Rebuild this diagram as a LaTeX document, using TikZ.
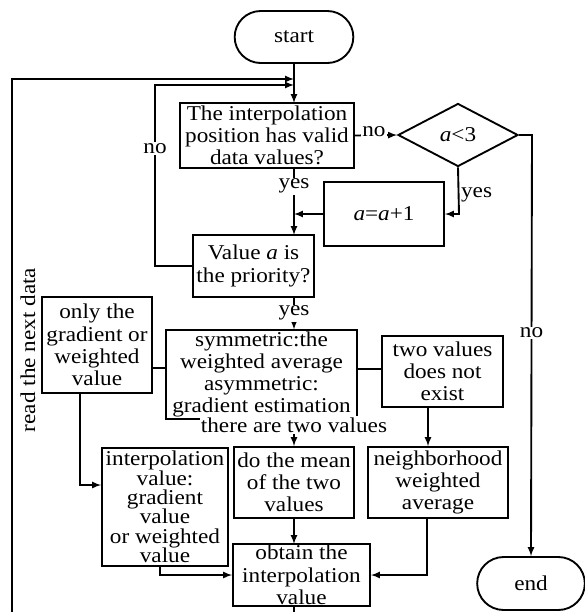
\documentclass[tikz,border=0pt]{standalone}
\usepackage{fontspec}
\setmainfont[FakeStretch=1.1]{Liberation Serif}
\usetikzlibrary{shapes.geometric,shapes.misc,positioning}

\tikzset{
  every node/.style={font=\fontsize{18}{19}\selectfont, inner sep=1pt},
  blk/.style={draw, line width=1.6pt, align=center},
  term/.style={draw, rounded rectangle, line width=1.6pt},
  cond/.style={draw, diamond, line width=1.6pt, inner sep=0pt},
  lbl/.style={fill=white, inner sep=1pt},
  flow/.style={line width=1.6pt, -latex},
  link/.style={line width=1.6pt},
}

\begin{document}
\begin{tikzpicture}[x=0.03cm, y=-0.03cm]
    \clip (0,0) rectangle (585,612);

    % main column x and loop lines
    \def\mx{294}
    \def\lx{12}   \def\ly{79}    % outer loop
    \def\nx{155}  \def\ny{85}    % inner loop

    % Nodes
    \node[term, minimum width=3.63cm, minimum height=1.56cm] (start) at (\mx,37) {start};
    \node[blk, minimum width=5.22cm, minimum height=1.95cm] (check) at (267,135.5)
        {The interpolation\\position has valid\\data values?};
    \node[cond, minimum width=3.6cm, minimum height=1.89cm] (cmp) at (458,135) {\textit{a}<3};
    \node[blk, minimum width=3.6cm, minimum height=1.92cm] (inc) at (384,214) {\textit{a}=\textit{a}+1};
    \node[blk, minimum width=3.63cm, minimum height=1.86cm] (prio) at (253.5,266)
        {Value \textit{a} is\\the priority?};
    \node[blk, minimum width=3.3cm, minimum height=2.88cm] (only) at (97,345)
        {only the\\gradient or\\weighted\\value};
    \node[blk, minimum width=5.73cm, minimum height=2.49cm] (sym) at (261.5,374.5)
        {symmetric:the\\weighted average\\asymmetric:\\gradient estimation};
    \node[blk, minimum width=3.63cm, minimum height=2.13cm] (none) at (442.5,371.5)
        {two values\\does not\\exist};
    \node[blk, minimum width=3.78cm, minimum height=3.54cm,
          font=\fontsize{18}{16.6}\selectfont] (interp) at (165,507)
        {interpolation\\value:\\gradient\\value\\or weighted\\value};
    \node[blk, minimum width=3.6cm, minimum height=2.13cm] (mean) at (\mx,482.5)
        {do the mean\\of the two\\values};
    \node[blk, minimum width=4.2cm, minimum height=2.13cm] (neigh) at (438,482.5)
        {neighborhood\\weighted\\average};
    \node[blk, minimum width=4.11cm, minimum height=1.86cm] (obtain) at (301.5,575)
        {obtain the\\interpolation\\value};
    \node[term, minimum width=3.3cm, minimum height=1.59cm] (stop) at (531,583.5) {end};
    \node[rotate=90] (next) at (28,350) {read the next data};

    % Loop points
    \coordinate (lb) at (\lx,640);
    \coordinate (lt) at (\lx,\ly);
    \coordinate (nb) at (\nx,266);
    \coordinate (nt) at (\nx,\ny);

    % Main column
    \draw[flow] (start.south) -- (\mx,103);
    \draw[flow] (\mx,168) -- node[lbl, pos=0.27] {yes} (\mx,235);
    \draw[flow] (inc.west) -- (\mx,214);
    \draw[flow] (\mx,297) -- node[lbl, pos=0.5] {yes} (sym.north -| start);
    \draw[flow] (\mx,416) -- node[lbl, pos=0.3] {there are two values} (mean.north);
    \draw[flow] (mean.south) -- (\mx,544);

    % Loops back to the top
    \draw[flow] (\mx,606) -- (\mx,640) -- (lb) -- (lt) -- (\mx,\ly);
    \draw[flow] (prio.west) -- (nb) -- node[lbl, pos=0.65] {no} (nt) -- (\mx,\ny);

    % Counter branch
    \draw[flow] (check.east) -- node[lbl, above=-3pt, pos=0.45] {no} (cmp.west);
    \draw[flow] (cmp.south) -- (459,214) node[right, yshift=16pt] {yes} -- (inc.east);
    \draw[flow] (cmp.east) -- (532,135) -- node[lbl, pos=0.47] {no} (stop.north);

    % Case branches
    \draw[link] (sym.west |- 0,368) -- (only.east |- 0,368);
    \draw[link] (sym.east |- 0,369) -- (none.west |- 0,369);
    \draw[flow] (none.south -| 428,0) -- (neigh.north -| 428,0);
    \draw[flow] (only.south -| 80,0) -- (80,485) -- (interp.west |- 0,485);
    \draw[flow] (interp.south -| 160,0) -- (160,575) -- (obtain.west);
    \draw[flow] (neigh.south -| 427,0) -- (427,575) -- (obtain.east);

\end{tikzpicture}
\end{document}
